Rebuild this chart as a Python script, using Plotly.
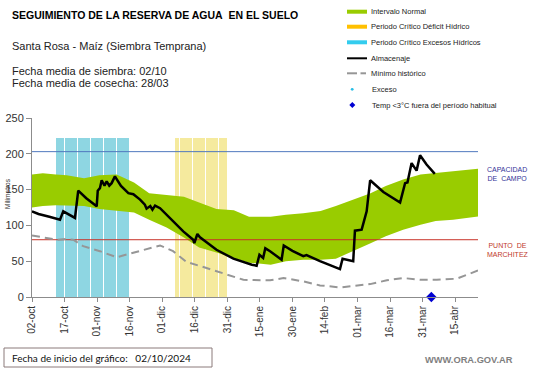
import pandas as pd
import plotly.graph_objects as go

# ---------------- data ----------------
fecha_inicio = "2024-10-02"

# Intervalo normal (days since start, upper, lower)
banda_dias = [0, 5, 11, 16, 24, 31, 39, 47, 54, 62, 70, 77, 85, 93, 100, 110, 117, 125, 133, 140, 148, 156, 163, 171, 179, 186, 194, 205.5]
banda_sup = [171, 173, 171, 170, 166, 170, 171, 160, 145, 143, 140, 132, 123, 121, 112, 112, 115, 117, 120, 127, 136, 145, 155, 164, 171, 173, 175.5, 179]
banda_inf = [125, 127, 128, 128, 127, 123, 120, 118, 108, 97, 83, 69, 62, 55, 48, 45, 50, 52, 52, 53.5, 64, 75, 85, 94, 101, 106, 108, 112.6]

# Almacenaje
alm_dias = [0, 3, 8, 12.9, 14.4, 16, 19.8, 21.3, 25, 29.8, 30.3, 31.3, 32.1, 33.4, 34.4, 35.6, 36.7, 38.2,
            41, 44.4, 46.7, 49.8, 52, 52.8, 54.5, 55.5, 56.7, 59, 65, 69.7, 74.3, 74.8, 76.2, 77.4, 85, 92.8,
            101.3, 103.5, 104.8, 106.5, 107.5, 109.7, 115, 116, 120, 125, 126.5, 132.7, 141.9, 143.1, 148,
            148.8, 151.9, 153, 154.2, 155.8, 161.9, 169.6, 171.9, 173, 174.9, 177.2, 178.8, 181.8, 185.6]
alm_val = [119.6, 116, 112, 108, 119.6, 117, 110.4, 148.5, 138, 126.6, 148.5, 152, 163, 155.5, 161.5, 155.5, 159, 168.5,
           155, 145, 143.5, 136, 129, 123.4, 127, 122, 127.6, 124, 105.7, 91.7, 80, 75.4, 88, 83.3, 66, 53.5,
           45, 43.7, 59, 54.5, 68, 64, 52, 72, 64.4, 57, 58.5, 50, 39, 53.5, 50,
           92.6, 94, 105, 119.6, 163, 146.7, 132, 159, 160, 187, 176.5, 198, 185, 172]

# Mínimo histórico
min_dias = [0, 5, 11.4, 16, 19, 23.6, 31.3, 39, 46.7, 50, 57.4, 59, 65, 71.2, 80.4, 89.7, 97.4, 109.7,
            115.9, 125, 132.7, 141.9, 155.8, 163.5, 171, 178.8, 186.5, 195.6, 205.5]
min_val = [86, 83, 80, 81, 80, 71, 64, 55.5, 61.5, 64.8, 70.7, 72, 64, 49, 40.5, 31, 24, 23.3,
           26.5, 21.8, 16.2, 13.4, 18, 23.3, 26.5, 24.2, 24.2, 25.5, 37]

# Periodos críticos (first and last day, inclusive)
periodo_excesos = ("2024-10-13", "2024-11-15")
periodo_deficit = ("2024-12-07", "2024-12-30")
altura_periodo = 222

# Temp < 3°C fuera del período habitual
temp_fechas = ["2025-04-04"]
temp_val = [0]

capacidad_campo = 203
punto_marchitez = 80
fin_dias = 205.5

tick_fechas = ["2024-10-02", "2024-10-17", "2024-11-01", "2024-11-16", "2024-12-01", "2024-12-16",
               "2024-12-31", "2025-01-15", "2025-01-30", "2025-02-14", "2025-03-01", "2025-03-16",
               "2025-03-31", "2025-04-15"]
tick_textos = ["02-oct", "17-oct", "01-nov", "16-nov", "01-dic", "16-dic", "31-dic", "15-ene",
               "30-ene", "14-feb", "01-mar", "16-mar", "31-mar", "15-abr"]

# ---------------- helpers ----------------
t0 = pd.Timestamp(fecha_inicio)


def to_dates(days):
    return [t0 + pd.Timedelta(days=d) for d in days]


def day_bars(period):
    days = pd.date_range(period[0], period[1], freq="D")
    return [d + pd.Timedelta(hours=12) for d in days]


W, H = 541, 368
L, R, T, B = 32, 63, 118, 71
PW, PH = W - L - R, H - T - B


def px(x):
    return (x - L) / PW


def py(y):
    return (H - B - y) / PH


x_end = t0 + pd.Timedelta(days=fin_dias)
FONT = "Liberation Sans, Arial, sans-serif"

fig = go.Figure()

# Green band
fig.add_trace(go.Scatter(x=to_dates(banda_dias), y=banda_inf, mode="lines", line=dict(width=0),
                         hoverinfo="skip", showlegend=False))
fig.add_trace(go.Scatter(x=to_dates(banda_dias), y=banda_sup, mode="lines", line=dict(width=0),
                         fill="tonexty", fillcolor="rgb(153,204,0)", name="Intervalo Normal", showlegend=False))

# Critical periods
bw = 0.58 * 86400000
ex_x = day_bars(periodo_excesos)
fig.add_trace(go.Bar(x=ex_x, y=[altura_periodo] * len(ex_x), width=bw,
                     marker=dict(color="rgb(68,187,208)", line=dict(width=0)), opacity=0.6,
                     name="Periodo Crítico Excesos Hídricos", showlegend=False))
de_x = day_bars(periodo_deficit)
fig.add_trace(go.Bar(x=de_x, y=[altura_periodo] * len(de_x), width=bw,
                     marker=dict(color="rgb(238,218,80)", line=dict(width=0)), opacity=0.55,
                     name="Periodo Crítico Déficit Hídrico", showlegend=False))

# Reference lines
fig.add_trace(go.Scatter(x=[t0, x_end], y=[capacidad_campo] * 2, mode="lines",
                         line=dict(color="rgb(80,120,190)", width=1), showlegend=False, hoverinfo="skip"))
fig.add_trace(go.Scatter(x=[t0, x_end], y=[punto_marchitez] * 2, mode="lines",
                         line=dict(color="rgb(200,50,40)", width=1), showlegend=False, hoverinfo="skip"))

# Minimum historic
fig.add_trace(go.Scatter(x=to_dates(min_dias), y=min_val, mode="lines",
                         line=dict(color="rgb(150,150,150)", width=2, dash="8px,5px"),
                         name="Mínimo histórico", showlegend=False))
# Almacenaje
fig.add_trace(go.Scatter(x=to_dates(alm_dias), y=alm_val, mode="lines",
                         line=dict(color="black", width=2.5), name="Almacenaje", showlegend=False))
# Temp diamond
fig.add_trace(go.Scatter(x=pd.to_datetime(temp_fechas), y=temp_val, mode="markers",
                         marker=dict(symbol="diamond", size=8, color="rgb(0,0,210)"),
                         cliponaxis=False, showlegend=False))

fig.update_layout(
    width=W, height=H, margin=dict(l=L, r=R, t=T, b=B, autoexpand=False),
    paper_bgcolor="white", plot_bgcolor="white", barmode="overlay", bargap=0,
    font=dict(family=FONT, color="#333"),
    xaxis=dict(type="date", range=[t0, x_end], showgrid=False, zeroline=False,
               showline=True, linecolor="#8c8c8c", linewidth=1, ticks="outside", ticklen=4,
               tickcolor="#8c8c8c", tickvals=pd.to_datetime(tick_fechas), ticktext=tick_textos,
               tickangle=-90, tickfont=dict(size=10, color="#333")),
    yaxis=dict(range=[0, 250], showgrid=False, zeroline=False, showline=True, linecolor="#8c8c8c",
               linewidth=1, ticks="outside", ticklen=5, tickcolor="#8c8c8c",
               tickvals=[0, 50, 100, 150, 200, 250], tickfont=dict(size=11, color="#333")),
)

ann = []


def text(x, y, s, size, color="#222", anchor="left", angle=0, family=FONT):
    ann.append(dict(x=px(x), y=py(y), xref="paper", yref="paper", text=s, showarrow=False,
                    xanchor=anchor, yanchor="middle", textangle=angle,
                    font=dict(size=size, color=color, family=family)))


text(10, 15, "<b>SEGUIMIENTO DE LA RESERVA DE AGUA&nbsp; EN EL SUELO</b>", 10.5, "#000")
text(10, 46, "Santa Rosa - Maíz (Siembra Temprana)", 11)
text(10, 71, "Fecha media de siembra: 02/10", 11)
text(10, 83, "Fecha media de cosecha: 28/03", 11)

text(7, 194, "Milímetros", 6.5, "#333", anchor="center", angle=-90)

text(485, 174, "CAPACIDAD<br>DE&nbsp; CAMPO", 7, "#333399")
text(485, 250, "PUNTO&nbsp; DE<br>MARCHITEZ", 7, "#c0392b")

text(10, 358, "Fecha de inicio del gráfico:&nbsp;&nbsp; 02/10/2024", 10, "#111", family="Lato, sans-serif")
text(423, 360, "<b>WWW.ORA.GOV.AR</b>", 9.3, "#7f7f7f")

# Legend (manual)
leg_rows = [11.7, 26.7, 42.3, 58.3, 73.3, 89.3, 105]
leg_labels = ["Intervalo Normal", "Periodo Crítico Déficit Hídrico", "Periodo Crítico Excesos Hídricos",
              "Almacenaje", "Mínimo histórico", "Exceso", "Temp &lt;3°C fuera del período habitual"]
shapes = []
rect_cols = ["rgb(153,204,0)", "rgb(255,192,0)", "rgb(51,204,238)"]
for i, c in enumerate(rect_cols):
    yy = leg_rows[i]
    shapes.append(dict(type="rect", xref="paper", yref="paper", x0=px(347), x1=px(367),
                       y0=py(yy + 2), y1=py(yy - 2), fillcolor=c, line=dict(width=0)))
shapes.append(dict(type="line", xref="paper", yref="paper", x0=px(347), x1=px(367),
                   y0=py(leg_rows[3]), y1=py(leg_rows[3]), line=dict(color="black", width=2)))
shapes.append(dict(type="line", xref="paper", yref="paper", x0=px(347), x1=px(357),
                   y0=py(leg_rows[4]), y1=py(leg_rows[4]), line=dict(color="rgb(150,150,150)", width=2)))
shapes.append(dict(type="line", xref="paper", yref="paper", x0=px(360.5), x1=px(366),
                   y0=py(leg_rows[4]), y1=py(leg_rows[4]), line=dict(color="rgb(150,150,150)", width=2)))
shapes.append(dict(type="circle", xref="paper", yref="paper", x0=px(350.8), x1=px(353.6),
                   y0=py(leg_rows[5] + 1.4), y1=py(leg_rows[5] - 1.4), fillcolor="rgb(40,190,230)",
                   line=dict(width=0)))
cx, cy = 352.3, leg_rows[6]
shapes.append(dict(type="path", xref="paper", yref="paper",
                   path=f"M {px(cx - 3)} {py(cy)} L {px(cx)} {py(cy - 3)} L {px(cx + 3)} {py(cy)} L {px(cx)} {py(cy + 3)} Z",
                   fillcolor="rgb(0,0,210)", line=dict(width=0)))
for i, lab in enumerate(leg_labels):
    text(369 if i < 5 else 370, leg_rows[i], lab, 7.5, "#222")

# bottom box
shapes.append(dict(type="rect", xref="paper", yref="paper", x0=px(4), x1=px(212), y0=py(367), y1=py(348),
                   line=dict(color="#8b7b7b", width=1), fillcolor="rgba(0,0,0,0)"))

fig.update_layout(annotations=ann, shapes=shapes)
fig.write_html("out.html", config={"displayModeBar": False},
               post_script="document.body.style.margin='0px';document.body.style.overflow='hidden';")
